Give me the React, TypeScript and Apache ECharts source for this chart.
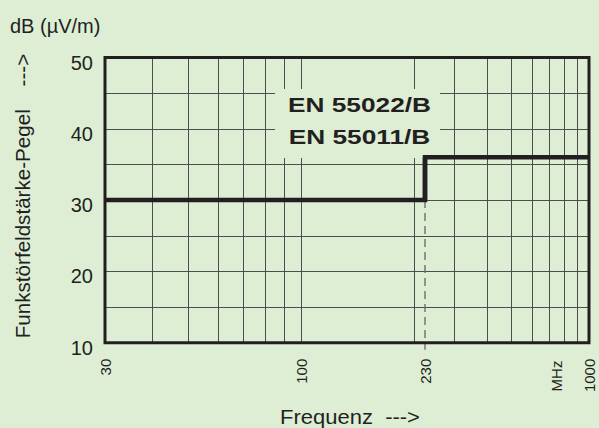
import React, { useEffect, useRef } from "react";
import * as echarts from "echarts";

// Limit line (step) of EN 55022/B, EN 55011/B
const limitFreq = [30, 230, 230, 1000];
const limitLevel = [30, 30, 36, 36];
// dashed guide at 230 MHz
const guideFreq = [230, 230];
const guideLevel = [30, 9];
// vertical grid frequencies
const gridFreqA = [40, 50, 60, 70, 80, 90, 100, 200];
const gridFreqC = [300, 400, 500, 600, 700, 800, 900];
// frequency ranges of the three pieces of the (hand drawn) log axis
const pieceRanges = [
  [30, 200],
  [200, 230],
  [230, 1000],
];
const xTickLabels = [30, 100, 230, 1000];
const yTickLabels = [10, 20, 30, 40, 50];
const titleLines = ["EN 55022/B", "EN 55011/B"];

const BG = "#ddeed5";
const INK = "#231f20";
const GRIDC = "#4d4d4d";
const FONT = "'Liberation Sans', Arial, Helvetica, sans-serif";

function clipPolyline(xs: number[], ys: number[], lo: number, hi: number) {
  const out: number[][] = [];
  const push = (p: number[]) => {
    const l = out[out.length - 1];
    if (!l || l[0] !== p[0] || l[1] !== p[1]) out.push(p);
  };
  for (let i = 0; i < xs.length - 1; i++) {
    const x1 = xs[i], y1 = ys[i], x2 = xs[i + 1], y2 = ys[i + 1];
    const a = Math.max(lo, Math.min(x1, x2));
    const b = Math.min(hi, Math.max(x1, x2));
    if (a > b) continue;
    if (x1 === x2) {
      push([x1, y1]);
      push([x2, y2]);
    } else {
      const t = (v: number) => y1 + ((y2 - y1) * (v - x1)) / (x2 - x1);
      push([a, t(a)]);
      push([b, t(b)]);
    }
  }
  return out;
}

export default function App() {
  const ref = useRef<HTMLDivElement>(null);
  useEffect(() => {
    document.body.style.margin = "0";
    document.body.style.background = BG;
    const chart = echarts.init(ref.current!, null, { renderer: "svg" });

    const gridPx = [
      { left: 105, width: 309 },
      { left: 414, width: 11 },
      { left: 425, width: 164 },
    ];
    const top = 57.5;
    const height = 285.2;

    const grids: any[] = gridPx.map((g) => ({ left: g.left, width: g.width, top, height }));
    grids.push({
      left: 105,
      width: 484,
      top,
      height,
      show: true,
      backgroundColor: "transparent",
      borderColor: INK,
      borderWidth: 3,
      z: 4,
    });

    const xAxes: any[] = pieceRanges.map((r, i) => ({
      type: "log",
      logBase: 10,
      gridIndex: i,
      min: r[0],
      max: r[1],
      axisLine: { show: false },
      axisTick: { show: false },
      splitLine: { show: false },
      axisLabel: {
        show: i !== 1,
        rotate: 90,
        margin: 16,
        fontSize: 15,
        color: INK,
        fontFamily: FONT,
        showMinLabel: true,
        showMaxLabel: true,
        formatter: (v: number) => {
          const r = Math.round(v);
          return xTickLabels.includes(r) ? String(r) : "";
        },
      },
    }));
    xAxes.push({ type: "value", gridIndex: 3, show: false });

    const yAxes: any[] = pieceRanges.map((_, i) => ({
      type: "value",
      gridIndex: i,
      min: 10,
      max: 50,
      interval: 5,
      axisLine: { show: false },
      axisTick: { show: false },
      splitLine: { show: true, lineStyle: { color: GRIDC, width: 1 } },
      axisLabel: {
        show: i === 0,
        fontSize: 20,
        color: INK,
        fontFamily: FONT,
        margin: 12,
        verticalAlign: "top",
        lineHeight: 10,
        formatter: (v: number) => (yTickLabels.includes(v) ? String(v) : ""),
      },
    }));
    yAxes.push({ type: "value", gridIndex: 3, show: false });

    const vLines = [gridFreqA, [], gridFreqC];

    const series: any[] = pieceRanges.map((r, i) => ({
      type: "line",
      xAxisIndex: i,
      yAxisIndex: i,
      data: clipPolyline(limitFreq, limitLevel, r[0], r[1]),
      symbol: "none",
      z: 3,
      lineStyle: { color: INK, width: 4.5, join: "miter", cap: "butt" },
      markLine: vLines[i].length
        ? {
            silent: true,
            symbol: ["none", "none"],
            label: { show: false },
            z: 1,
            lineStyle: { color: GRIDC, width: 1, type: "solid" },
            data: vLines[i].map((f) => ({ xAxis: f })),
          }
        : undefined,
    }));
    series.push({
      type: "line",
      xAxisIndex: 2,
      yAxisIndex: 2,
      data: guideFreq.map((f, k) => [f, guideLevel[k]]),
      symbol: "none",
      clip: false,
      z: 2,
      lineStyle: { color: "#666", width: 1.3, type: [8, 5] },
    });

    chart.setOption({
      animation: false,
      backgroundColor: BG,
      grid: grids,
      xAxis: xAxes,
      yAxis: yAxes,
      series,
      graphic: [
        {
          type: "rect",
          z: 1.5,
          silent: true,
          shape: { x: 275, y: 89, width: 165, height: 69 },
          style: { fill: BG },
        },
        ...titleLines.map((t, k) => ({
          type: "text",
          z: 10,
          x: 359.5,
          y: 104.5 + k * 31.6,
          scaleX: 1.25,
          style: {
            text: t,
            fontSize: 21,
            fontWeight: "bold",
            fontFamily: FONT,
            fill: INK,
            textAlign: "center",
            textVerticalAlign: "middle",
          },
        })),
        {
          type: "text",
          z: 10,
          x: 10,
          y: 25.5,
          style: {
            text: "dB (µV/m)",
            fontSize: 20,
            fontFamily: FONT,
            fill: INK,
            textAlign: "left",
            textVerticalAlign: "middle",
          },
        },
        {
          type: "text",
          z: 10,
          x: 23,
          y: 196,
          rotation: Math.PI / 2,
          scaleX: 1.03,
          style: {
            text: "Funkstörfeldstärke-Pegel\u00a0\u00a0\u00a0\u00a0--->",
            fontSize: 20,
            fontFamily: FONT,
            fill: INK,
            textAlign: "center",
            textVerticalAlign: "middle",
          },
        },
        {
          type: "text",
          z: 10,
          x: 280,
          y: 416.5,
          scaleX: 1.1,
          style: {
            text: "Frequenz\u00a0\u00a0--->",
            fontSize: 20,
            fontFamily: FONT,
            fill: INK,
            textAlign: "left",
            textVerticalAlign: "middle",
          },
        },
        {
          type: "text",
          z: 10,
          x: 556,
          y: 376,
          rotation: Math.PI / 2,
          style: {
            text: "MHz",
            fontSize: 15,
            fontFamily: FONT,
            fill: INK,
            textAlign: "center",
            textVerticalAlign: "middle",
          },
        },
      ],
    });
    return () => chart.dispose();
  }, []);
  return (
    <div
      ref={ref}
      style={{ position: "absolute", left: 0, top: 0, width: 599, height: 428, background: BG }}
    />
  );
}
